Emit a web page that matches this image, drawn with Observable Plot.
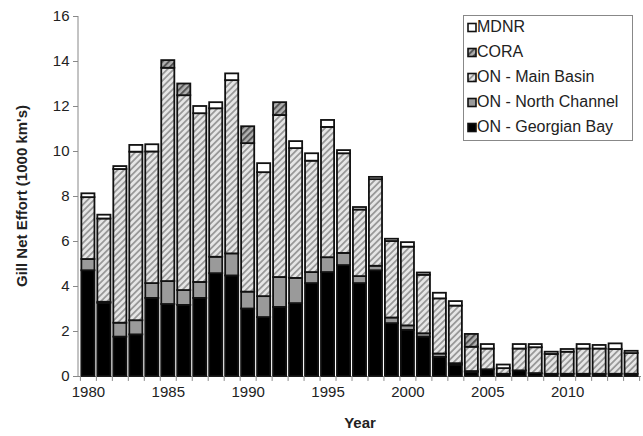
<!DOCTYPE html>
<html>
<head>
<meta charset="utf-8">
<script src="https://cdn.jsdelivr.net/npm/d3@7"></script>
<script src="https://cdn.jsdelivr.net/npm/@observablehq/plot@0.6"></script>
<style>
  html, body { margin: 0; padding: 0; background: #fff; }
  #chart { width: 643px; height: 436px; }
  svg { font-family: "Liberation Sans", Arial, sans-serif; }
</style>
</head>
<body>
<div id="chart"></div>
<script>
const years = [1980,1981,1982,1983,1984,1985,1986,1987,1988,1989,1990,1991,1992,1993,1994,1995,1996,1997,1998,1999,2000,2001,2002,2003,2004,2005,2006,2007,2008,2009,2010,2011,2012,2013,2014];
const seriesNames = ["ON - Georgian Bay", "ON - North Channel", "ON - Main Basin", "CORA", "MDNR"];
const georgianBay = [4.7,3.25,1.75,1.85,3.47,3.2,3.16,3.47,4.57,4.47,3.0,2.62,3.07,3.24,4.13,4.62,4.93,4.13,4.7,2.35,2.05,1.75,0.85,0.5,0.18,0.3,0.1,0.25,0.13,0.1,0.1,0.1,0.1,0.1,0.1];
const northChannel = [0.5,0.05,0.62,0.63,0.66,1.02,0.66,0.71,0.73,0.98,0.75,0.93,1.33,1.12,0.49,0.66,0.54,0.31,0.2,0.25,0.2,0.15,0.15,0.07,0.04,0,0,0,0,0,0,0,0,0,0];
const mainBasin = [2.75,3.7,6.83,7.49,5.85,9.48,8.66,7.5,6.6,7.7,6.6,5.51,7.2,5.77,4.95,5.79,4.43,2.96,3.85,3.4,3.5,2.6,2.45,2.56,1.08,0.92,0.25,0.97,1.15,0.88,0.98,1.12,1.12,1.1,0.92];
const cora = [0,0,0,0,0,0.34,0.52,0,0,0,0.75,0,0.57,0,0,0,0,0,0,0,0,0,0,0,0.57,0,0,0,0,0,0,0,0,0,0];
const mdnr = [0.17,0.17,0.13,0.3,0.32,0,0,0.32,0.27,0.3,0,0.4,0,0.31,0.33,0.31,0.14,0.11,0.1,0.1,0.2,0.1,0.25,0.2,0,0.2,0.16,0.2,0.14,0.1,0.12,0.2,0.16,0.25,0.1];
const yTicks = [0,2,4,6,8,10,12,14,16];
const xTickLabels = [1980,1985,1990,1995,2000,2005,2010];
const yLabel = "Gill Net Effort (1000 km's)";
const xLabel = "Year";
const legendOrder = ["MDNR", "CORA", "ON - Main Basin", "ON - North Channel", "ON - Georgian Bay"];

const seriesValues = [georgianBay, northChannel, mainBasin, cora, mdnr];
const fills = ["#000000", "#9a9a9a", "url(#hatchMB)", "url(#hatchCORA)", "#ffffff"];

const table = [];
years.forEach((yr, i) => {
  seriesNames.forEach((s, k) => {
    const v = seriesValues[k][i];
    if (v > 0) table.push({year: yr, series: s, value: v});
  });
});

const W = 643, H = 436, ML = 78, MR = 2, MT = 16, MB = 60;

const chart = Plot.plot({
  width: W,
  height: H,
  marginLeft: ML,
  marginRight: MR,
  marginTop: MT,
  marginBottom: MB,
  style: {fontFamily: "'Liberation Sans', Arial, sans-serif", background: "#fff", overflow: "visible"},
  x: {type: "band", domain: years, paddingInner: 0.18, paddingOuter: 0.21, label: null},
  y: {domain: [0, 16], label: null},
  color: {type: "ordinal", domain: seriesNames, range: fills},
  marks: [
    Plot.ruleY([0], {stroke: "#888", strokeWidth: 1}),
    Plot.barY(table, Plot.stackY({x: "year", y: "value", fill: "series", stroke: "#111", strokeWidth: 1.8})),
    Plot.ruleX(years, {x: d => d, y1: 0, y2: -0.22, dx: -8, stroke: "#888"}),
    Plot.ruleX([years[years.length - 1]], {x: d => d, y1: 0, y2: -0.22, dx: 8, stroke: "#888"}),
    Plot.axisX({ticks: xTickLabels, tickFormat: d => String(d), tickSize: 0, tickPadding: 10, fontSize: 15, label: null, fill: "#222"}),
    Plot.axisY({ticks: yTicks, tickSize: 5, tickPadding: 4, fontSize: 15, label: null, stroke: "#888", fill: "#222"})
  ]
});

const svg = d3.select(chart);
const defs = svg.insert("defs", ":first-child");
const p1 = defs.append("pattern").attr("id", "hatchMB").attr("patternUnits", "userSpaceOnUse")
  .attr("width", 4.5).attr("height", 4.5).attr("patternTransform", "rotate(45)");
p1.append("rect").attr("width", 4.5).attr("height", 4.5).attr("fill", "#e6e6e6");
p1.append("rect").attr("width", 1.8).attr("height", 4.5).attr("fill", "#999");
const p2 = defs.append("pattern").attr("id", "hatchCORA").attr("patternUnits", "userSpaceOnUse")
  .attr("width", 4.5).attr("height", 4.5).attr("patternTransform", "rotate(45)");
p2.append("rect").attr("width", 4.5).attr("height", 4.5).attr("fill", "#b0b0b0");
p2.append("rect").attr("width", 2).attr("height", 4.5).attr("fill", "#555");

// y axis line
svg.append("line").attr("x1", ML).attr("x2", ML).attr("y1", MT).attr("y2", H - MB)
  .attr("stroke", "#888").attr("stroke-width", 1);

// axis titles
svg.append("text").attr("transform", `translate(23,${(MT + H - MB) / 2}) rotate(-90)`)
  .attr("text-anchor", "middle").attr("dominant-baseline", "middle")
  .attr("font-size", 15).attr("font-weight", "bold").attr("fill", "#222").text(yLabel);
svg.append("text").attr("x", 360).attr("y", 428)
  .attr("text-anchor", "middle")
  .attr("font-size", 15).attr("font-weight", "bold").attr("fill", "#222").text(xLabel);

// legend
const lg = svg.append("g").attr("text-anchor", "start");
lg.append("rect").attr("x", 463.5).attr("y", 15.5).attr("width", 169).attr("height", 125)
  .attr("fill", "#fff").attr("stroke", "#888");
legendOrder.forEach((name, i) => {
  const cy = 28 + i * 25;
  lg.append("rect").attr("x", 468).attr("y", cy - 4.5).attr("width", 8).attr("height", 8)
    .attr("fill", fills[seriesNames.indexOf(name)]).attr("stroke", "#111").attr("stroke-width", 1.6);
  lg.append("text").attr("x", 477).attr("y", cy).attr("dominant-baseline", "middle")
    .attr("text-anchor", "start")
    .attr("font-size", 16).attr("fill", "#222").text(name);
});

document.getElementById("chart").appendChild(chart);
</script>
</body>
</html>
